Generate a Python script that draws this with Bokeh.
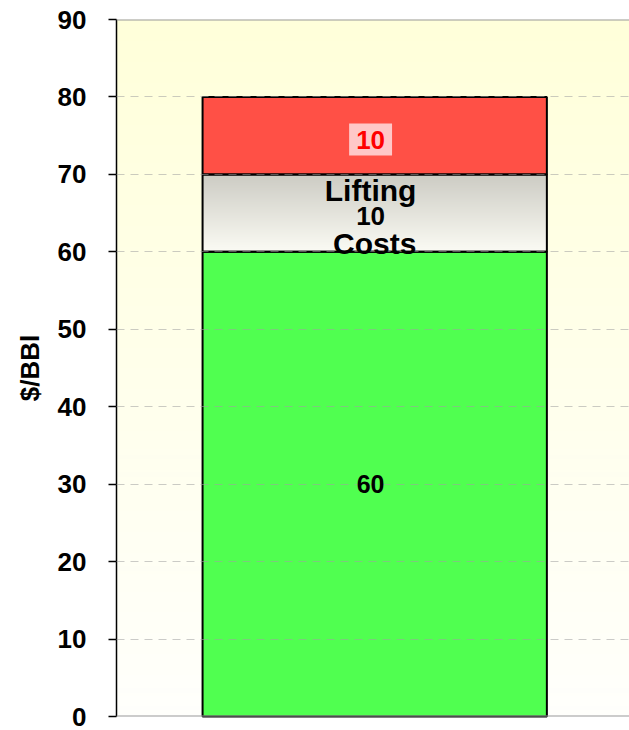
import numpy as np
from bokeh.plotting import figure
from bokeh.models import Range1d, FixedTicker, Span, ColumnDataSource
from bokeh.core.properties import value
from bokeh.embed import file_html
from bokeh.resources import INLINE

# ---- data ----
segments = ["Base", "Lifting Costs", "Top"]
seg_values = [60, 10, 10]
seg_labels = ["60", "10", "10"]
y_ticks = [0, 10, 20, 30, 40, 50, 60, 70, 80, 90]
y_title = "$/BBl"
note_lines = ["Lifting", "Costs"]

FONT = "Liberation Sans"

bottoms = list(np.cumsum([0] + seg_values[:-1]))
tops = list(np.cumsum(seg_values))

p = figure(width=629, height=730, output_backend="svg", toolbar_location=None,
           x_range=Range1d(0, 1.49), y_range=Range1d(0, 90),
           min_border_left=116, min_border_right=0, min_border_top=19, min_border_bottom=14)
p.outline_line_color = None
p.background_fill_color = "white"
p.border_fill_color = "white"

# plot-area gradient (white bottom -> pale yellow top)
n = 200
t = np.linspace(0, 1, n)[:, None]
bot = np.array([255, 255, 252])
top = np.array([255, 255, 218])
cols = (bot * (1 - t) + top * t).astype(np.uint32)
img = (255 << 24) | (cols[:, 2] << 16) | (cols[:, 1] << 8) | cols[:, 0]
img = np.repeat(img.reshape(n, 1), 2, axis=1)
p.image_rgba(image=[img], x=0, y=0, dw=1.49, dh=90, level="image")

xc = 0.75
bw = 1.0
# green base and red top
fills = ["#50FF50", None, "#FF5046"]
for b, tp, c in zip(bottoms, tops, fills):
    if c is not None:
        p.quad(left=[xc - bw / 2], right=[xc + bw / 2], bottom=[b], top=[tp],
               fill_color=c, line_color=None)

# lifting-costs segment gradient
t2 = np.linspace(0, 1, n)[:, None]
gb = np.array([251, 251, 244])
gt = np.array([205, 204, 196])
c2 = (gb * (1 - t2) + gt * t2).astype(np.uint32)
img2 = (255 << 24) | (c2[:, 2] << 16) | (c2[:, 1] << 8) | c2[:, 0]
img2 = np.repeat(img2.reshape(n, 1), 2, axis=1)
p.image_rgba(image=[img2], x=xc - bw / 2, y=bottoms[1], dw=bw, dh=seg_values[1], level="glyph")

# outlines
p.quad(left=[xc - bw / 2] * 3, right=[xc + bw / 2] * 3, bottom=bottoms, top=tops,
       fill_color=None, line_color="black", line_width=2, level="guide")

# grid over bars
p.xgrid.visible = False
p.ygrid.ticker = FixedTicker(ticks=y_ticks[1:-1])
p.ygrid.grid_line_color = "#A0A0A0"
p.ygrid.grid_line_alpha = 0.55
p.ygrid.grid_line_dash = "8 6"
p.ygrid.grid_line_width = 1
p.ygrid.level = "guide"

# frame lines
p.add_layout(Span(location=90, dimension="width", line_color="#999999", line_width=2))
p.add_layout(Span(location=0, dimension="width", line_color="#999999", line_width=2))

# axes
p.xaxis.visible = False
ya = p.yaxis[0]
ya.ticker = FixedTicker(ticks=y_ticks)
ya.axis_line_color = "black"
ya.axis_line_width = 1.5
ya.major_tick_line_color = "black"
ya.major_tick_line_width = 1.5
ya.major_tick_out = 8
ya.major_tick_in = 0
ya.minor_tick_line_color = None
ya.major_label_text_font = FONT
ya.major_label_text_font_style = "bold"
ya.major_label_text_font_size = "26px"
ya.major_label_text_color = "black"
ya.major_label_standoff = 22
ya.axis_label = y_title
ya.axis_label_text_font = FONT
ya.axis_label_text_font_style = "bold"
ya.axis_label_text_font_size = "26px"
ya.axis_label_text_color = "black"
ya.axis_label_standoff = 10

# value labels
mids = [(b + tp) / 2 for b, tp in zip(bottoms, tops)]
lab_src = ColumnDataSource(dict(x=[0.738, 0.738], y=[mids[0], mids[1] - 0.4],
                                t=[seg_labels[0], seg_labels[1]], s=["25px", "26px"]))
p.text(x="x", y="y", text="t", source=lab_src, text_font=value(FONT), text_font_style="bold",
       text_font_size="s", text_align="center", text_baseline="middle", text_color="black",
       level="overlay")

p.text(x=[0.738], y=[mids[2] - 0.5], text=[seg_labels[2]], text_font=value(FONT), text_font_style="bold",
       text_font_size="26px", text_align="center", text_baseline="middle", text_color="#FF0000",
       background_fill_color="#FFC8C8", padding=7, level="overlay")

note_src = ColumnDataSource(dict(x=[0.738, 0.75], y=[67.9, 61.1], t=note_lines))
p.text(x="x", y="y", text="t", source=note_src, text_font=value(FONT), text_font_style="bold",
       text_font_size="30px", text_align="center", text_baseline="middle", text_color="black",
       level="overlay")

open("out.html", "w").write(file_html(p, INLINE))
